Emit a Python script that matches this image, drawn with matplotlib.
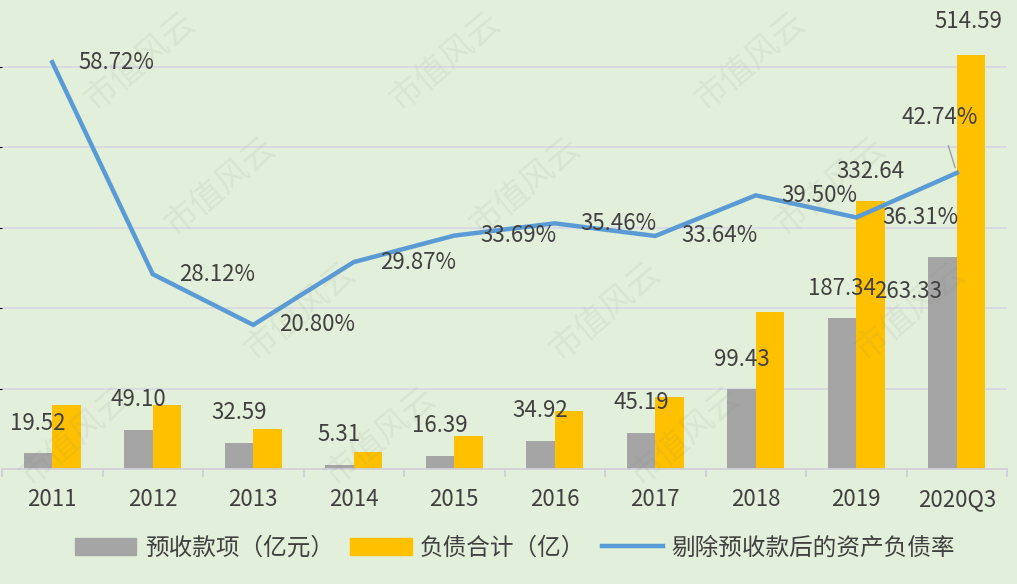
import numpy as np
import matplotlib
matplotlib.use('Agg')
import matplotlib.pyplot as plt
from matplotlib.ticker import FixedLocator

plt.rcParams['font.family'] = ['Noto Sans CJK SC', 'DejaVu Sans']

years = ['2011', '2012', '2013', '2014', '2015', '2016', '2017', '2018', '2019', '2020Q3']
advance = [19.52, 49.10, 32.59, 5.31, 16.39, 34.92, 45.19, 99.43, 187.34, 263.33]   # 预收款项
debt = [79, 79, 50, 21, 41, 72, 89, 195, 332.64, 514.59]                            # 负债合计 (only last two labelled)
ratio = [58.72, 28.12, 20.80, 29.87, 33.69, 35.46, 33.64, 39.50, 36.31, 42.74]      # 剔除预收款后的资产负债率

bg = '#E2EFDA'
grey = '#A5A5A5'
yellow = '#FFC000'
blue = '#5B9BD5'
txt = '#404040'

W, H = 1017, 584
fig = plt.figure(figsize=(W/100, H/100), dpi=100, facecolor=bg)
ax = fig.add_axes([2/W, 115/H, 1005/W, 469/H])
ax.set_facecolor(bg)

x = np.arange(len(years))
bw = 0.285
b1 = ax.bar(x - bw/2, advance, bw, color=grey, zorder=2)
b2 = ax.bar(x + bw/2, debt, bw, color=yellow, zorder=2)

ax.set_xlim(-0.5, len(years) - 0.5)
ax.set_ylim(0, 583)
ax.set_yticks([100, 200, 300, 400, 500])
ax.yaxis.grid(True, color='#D9D9E4', lw=1.3, zorder=0)
ax.tick_params(axis='y', left=False, labelleft=False)
for s in ['top', 'left', 'right']:
    ax.spines[s].set_visible(False)
ax.spines['bottom'].set_color('#D0D0D8')
ax.spines['bottom'].set_linewidth(1.3)
ax.set_xticks(x)
ax.set_xticklabels(years, fontsize=16, color=txt)
ax.tick_params(axis='x', length=0, pad=14)
ax.xaxis.set_minor_locator(FixedLocator(np.arange(-0.5, len(years), 1)))
ax.tick_params(axis='x', which='minor', length=6, width=1.3, color='#D0D0D8')

# grey bar labels
for i, v in enumerate(advance):
    off = (0, 30)
    if i == 9:
        off = (-34, -34)
    ax.annotate('%.2f' % v, (x[i] - bw/2, v), xytext=off, textcoords='offset pixels',
                ha='center', va='center', fontsize=16, color=txt, zorder=5)
# yellow labels only for last two
ax.annotate('%.2f' % debt[8], (x[8] + bw/2, debt[8]), xytext=(0, 30), textcoords='offset pixels',
            ha='center', va='center', fontsize=16, color=txt, zorder=5)
ax.annotate('%.2f' % debt[9], (x[9] + bw/2, debt[9]), xytext=(-3, 34), textcoords='offset pixels',
            ha='center', va='center', fontsize=16, color=txt, zorder=5)

ax2 = ax.twinx()
ax2.set_ylim(0, 67.7)
ax2.axis('off')
ax2.plot(x, ratio, color=blue, lw=3.2, solid_joinstyle='miter', zorder=3)
for i, v in enumerate(ratio):
    if i == 9:
        ax2.annotate('%.2f%%' % v, (x[i], v), xytext=(-17, 55), textcoords='offset pixels',
                     ha='center', va='center', fontsize=16, color=txt,
                     arrowprops=dict(arrowstyle='-', color='#A0A0A0', lw=1, shrinkA=10, shrinkB=4))
    else:
        ax2.annotate('%.2f%%' % v, (x[i], v), xytext=(64, 0), textcoords='offset pixels',
                     ha='center', va='center', fontsize=16, color=txt)

# legend
h1 = plt.Rectangle((0, 0), 1, 1, color=grey)
h2 = plt.Rectangle((0, 0), 1, 1, color=yellow)
h3 = plt.Line2D([], [], color=blue, lw=3.2)
leg = fig.legend([h1, h2, h3], ['预收款项（亿元）', '负债合计（亿）', '剔除预收款后的资产负债率'],
                 loc='center', bbox_to_anchor=(515/W, 1 - 548/H), ncol=3, frameon=False,
                 fontsize=17, handlelength=2.6, handleheight=0.7, handletextpad=0.35,
                 columnspacing=0.7)
for t in leg.get_texts():
    t.set_color(txt)

# watermark 市值风云 (only the copies that fit inside the picture)
for r in range(0, 5):
    for k in range(-1, 4):
        px = 140 + 80*r + 305*k
        py = 62 + 125*r
        if 70 < px < W - 70 and 50 < py < H - 50:
            fig.text(px/W, 1 - py/H, '市值风云', fontsize=24, color='#7f8f78', alpha=0.10,
                     rotation=40, ha='center', va='center', zorder=10)

fig.savefig('out.png', dpi=100, facecolor=bg)
